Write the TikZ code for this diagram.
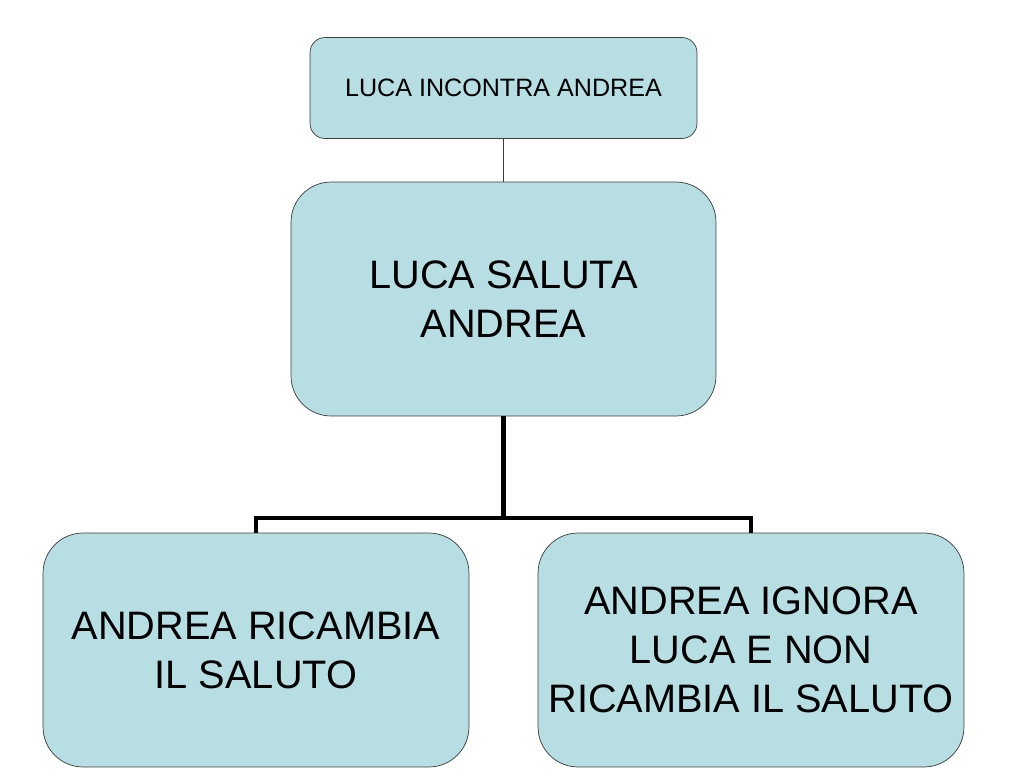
\documentclass[tikz,border=0pt]{standalone}
\usepackage{fontspec}
\setmainfont{Liberation Sans}
\definecolor{boxfill}{RGB}{183,222,227}
\definecolor{boxline}{RGB}{60,60,60}
\begin{document}
\begin{tikzpicture}[x=0.02cm,y=-0.02cm]
\tikzset{
  event/.style={draw=boxline,fill=boxfill,shape=rectangle,rounded corners=0.8cm,align=center,inner sep=0pt,font=\fontsize{22.6}{28}\selectfont},
  bus/.style={line width=2.8pt,line join=miter}
}
\useasboundingbox (0,0) rectangle (1024,768);
\node[event,rounded corners=0.3cm,minimum width=7.74cm,minimum height=2.02cm,font=\fontsize{14.3}{17}\selectfont] (meet) at (503.5,88) {LUCA INCONTRA ANDREA};
\node[event,minimum width=8.5cm,minimum height=4.68cm] (greet) at (503.5,299) {LUCA SALUTA\\ANDREA};
\node[event,minimum width=8.52cm,minimum height=4.68cm] (reply) at (256,650) {ANDREA RICAMBIA\\IL SALUTO};
\node[event,minimum width=8.52cm,minimum height=4.68cm] (ignore) at (751,650) {ANDREA IGNORA\\LUCA E NON\\RICAMBIA IL SALUTO};
\coordinate (fork) at (503.5,518);
\draw[boxline,thin] (meet) -- (greet);
\draw[bus] (greet.south) -- (fork) -| (reply.north);
\draw[bus] (fork) -| (ignore.north);
\end{tikzpicture}
\end{document}
